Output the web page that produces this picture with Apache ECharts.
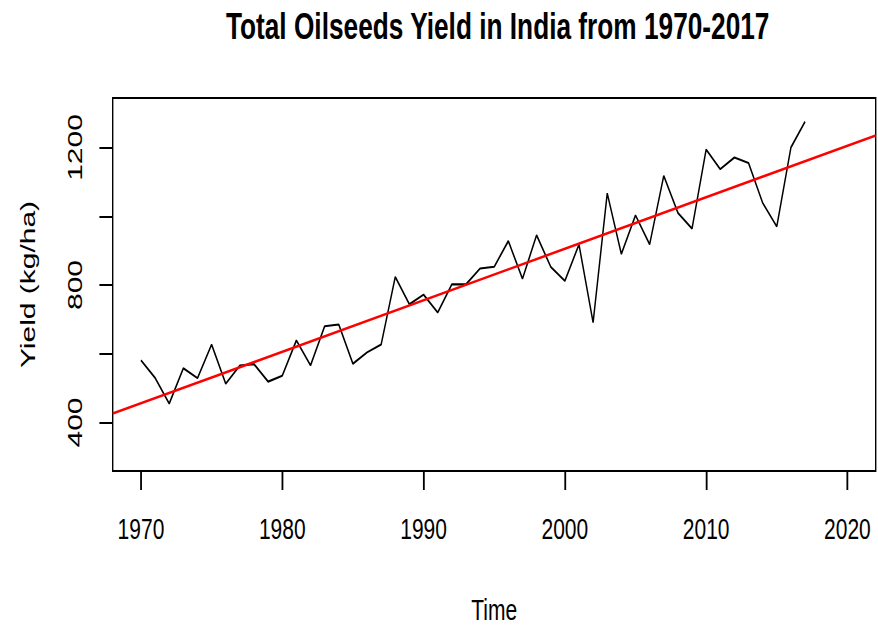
<!DOCTYPE html>
<html>
<head>
<meta charset="utf-8">
<script src="https://cdn.jsdelivr.net/npm/echarts@6/dist/echarts.min.js"></script>
<style>
html,body{margin:0;padding:0;background:#fff;overflow:hidden;width:878px;height:630px;}
#c{width:1254px;height:630px;transform:scaleX(0.7);transform-origin:0 0;}
</style>
</head>
<body>
<div id="c"></div>
<script>
const years = [1970,1971,1972,1973,1974,1975,1976,1977,1978,1979,
  1980,1981,1982,1983,1984,1985,1986,1987,1988,1989,
  1990,1991,1992,1993,1994,1995,1996,1997,1998,1999,
  2000,2001,2002,2003,2004,2005,2006,2007,2008,2009,
  2010,2011,2012,2013,2014,2015,2016,2017];
const yields = [581,530,455,558,529,627,513,566,570,519,
  536,639,566,680,685,571,604,627,824,744,
  772,720,802,802,848,853,928,818,945,853,
  812,918,691,1067,890,1003,918,1118,1010,964,
  1194,1137,1171,1155,1039,970,1200,1275];
const trendYears = [1968, 2022];
const trendValues = [426, 1235];
const xTicks = [1970,1980,1990,2000,2010,2020];
const yTicks = [400,600,800,1000,1200];
const yLabels = [400,800,1200];
const titleText = 'Total Oilseeds Yield in India from 1970-2017';
const xName = 'Time';
const yName = 'Yield (kg/ha)';

const chart = echarts.init(document.getElementById('c'), null, {renderer:'svg'});
const font = 'Liberation Sans, Arial, Helvetica, sans-serif';
const plain = v => String(v);
chart.setOption({
  animation:false,
  backgroundColor:'#fff',
  title:{
    text:titleText, left:706, top:2, textAlign:'center',
    textStyle:{fontFamily:font, fontWeight:'bold', fontSize:37.5, color:'#000'}
  },
  grid:{left:161, right:3, top:98, bottom:156, show:true, borderColor:'#000', borderWidth:2, backgroundColor:'transparent'},
  xAxis:{
    type:'value', min:1968, max:2022,
    name:xName, nameLocation:'middle', nameGap:124,
    nameTextStyle:{fontFamily:font, fontSize:30, color:'#000'},
    axisLine:{show:false},
    axisTick:{show:true, customValues:xTicks, length:19, inside:false, lineStyle:{color:'#000', width:2.6}},
    axisLabel:{show:true, customValues:xTicks, formatter:plain, fontFamily:font, fontSize:30, color:'#000', margin:43},
    splitLine:{show:false}
  },
  yAxis:{
    type:'value', min:259, max:1344,
    name:yName, nameLocation:'middle', nameGap:106, nameRotate:90,
    nameTextStyle:{fontFamily:font, fontSize:30, color:'#000'},
    axisLine:{show:false},
    axisTick:{show:true, customValues:yTicks, length:19, inside:false, lineStyle:{color:'#000', width:2}},
    axisLabel:{show:true, customValues:yLabels, formatter:plain, rotate:90, fontFamily:font, fontSize:30, color:'#000', margin:39},
    splitLine:{show:false}
  },
  series:[
    {type:'line', data:years.map((y,i)=>[y, yields[i]]), showSymbol:false, symbol:'none',
     lineStyle:{color:'#000', width:2.1}, z:2},
    {type:'line', data:trendYears.map((y,i)=>[y, trendValues[i]]), showSymbol:false, symbol:'none',
     lineStyle:{color:'#ff0000', width:2.6}, z:3}
  ]
});
</script>
</body>
</html>
